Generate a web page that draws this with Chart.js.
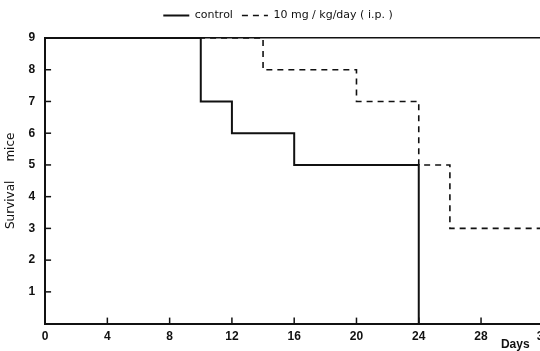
<!DOCTYPE html>
<html>
<head>
<meta charset="utf-8">
<script src="https://cdn.jsdelivr.net/npm/chart.js@4.4.1/dist/chart.umd.min.js"></script>
<style>
  html, body { margin: 0; padding: 0; background: #fff; overflow: hidden; }
</style>
</head>
<body>
<canvas id="survivalChart" width="556" height="351"></canvas>
<script>
// survival of mice, control vs treated (step curves)
const dayTicks = [0, 4, 8, 12, 16, 20, 24, 28, 32];
const miceTicks = [0, 1, 2, 3, 4, 5, 6, 7, 8, 9];

const controlDays = [0, 10, 12, 16, 24];
const controlMice = [9, 7, 6, 5, 0];

const treatedDays = [0, 14, 20, 24, 26, 33];
const treatedMice = [9, 8, 7, 5, 3, 3];

const ink = '#111';
const fontFamily = '"DejaVu Sans", Verdana, sans-serif';
const tickFamily = '"Liberation Sans", Arial, sans-serif';

function toPoints(xs, ys) {
  return xs.map((x, i) => ({ x: x, y: ys[i] }));
}

// short tick marks drawn inside the axes, plus the "Days" caption
const innerTicks = {
  id: 'innerTicks',
  afterDraw(chart) {
    const { ctx, scales: { x, y } } = chart;
    ctx.save();
    ctx.strokeStyle = ink;
    ctx.lineWidth = 1.5;
    miceTicks.filter(v => v > 0 && v < 9).forEach(v => {
      const py = y.getPixelForValue(v);
      ctx.beginPath();
      ctx.moveTo(x.left, py);
      ctx.lineTo(x.left + 6, py);
      ctx.stroke();
    });
    dayTicks.filter(v => v > 0 && v < 32).forEach(v => {
      const px = x.getPixelForValue(v);
      ctx.beginPath();
      ctx.moveTo(px, y.bottom);
      ctx.lineTo(px, y.bottom - 6);
      ctx.stroke();
    });
    ctx.fillStyle = ink;
    ctx.font = 'bold 12px ' + tickFamily;
    ctx.textAlign = 'center';
    ctx.textBaseline = 'middle';
    ctx.fillText('Days', x.getPixelForValue(30.2), y.bottom + 21);
    ctx.restore();
  }
};

new Chart(document.getElementById('survivalChart').getContext('2d'), {
  type: 'line',
  data: {
    datasets: [{
      label: 'control',
      data: toPoints(controlDays, controlMice),
      stepped: 'before',
      borderColor: ink,
      borderWidth: 2,
      pointRadius: 0,
      fill: false
    }, {
      label: '10 mg / kg/day ( i.p. )',
      data: toPoints(treatedDays, treatedMice),
      stepped: 'before',
      borderColor: ink,
      borderWidth: 1.6,
      borderDash: [6, 5],
      pointRadius: 0,
      fill: false
    }]
  },
  options: {
    responsive: false,
    animation: false,
    layout: { padding: { top: 1, left: 0, right: 0, bottom: 1 } },
    scales: {
      x: {
        type: 'linear',
        min: 0,
        max: 32.8,
        afterBuildTicks: axis => { axis.ticks = dayTicks.map(v => ({ value: v })); },
        grid: { display: false, drawTicks: false },
        border: { display: true, color: ink, width: 2 },
        ticks: {
          color: ink,
          padding: 6,
          maxRotation: 0,
          font: { family: tickFamily, size: 12, weight: 'bold' }
        }
      },
      top: {
        type: 'linear',
        position: 'top',
        min: 0,
        max: 32.8,
        grid: { display: false, drawTicks: false },
        border: { display: true, color: ink, width: 1.5 },
        ticks: { display: false },
        afterFit: axis => { axis.height = 7; }
      },
      y: {
        min: 0,
        max: 9,
        afterBuildTicks: axis => { axis.ticks = miceTicks.map(v => ({ value: v })); },
        grid: { display: false, drawTicks: false },
        border: { display: true, color: ink, width: 2 },
        ticks: {
          color: ink,
          padding: 10,
          callback: v => (v === 0 ? '' : v),
          font: { family: tickFamily, size: 12, weight: 'bold' }
        },
        title: {
          display: true,
          text: 'Survival     mice',
          color: ink,
          padding: { top: 4, bottom: 0 },
          font: { family: fontFamily, size: 12 }
        }
      }
    },
    plugins: {
      legend: {
        display: true,
        position: 'top',
        labels: {
          color: ink,
          usePointStyle: true,
          pointStyle: 'line',
          pointStyleWidth: 26,
          padding: 9,
          font: { family: fontFamily, size: 11 },
          generateLabels: chart => Chart.defaults.plugins.legend.labels.generateLabels(chart).map(item => {
            const ds = chart.data.datasets[item.datasetIndex];
            item.lineDash = ds.borderDash || [];
            item.lineWidth = ds.borderWidth;
            return item;
          })
        }
      },
      tooltip: { enabled: false }
    }
  },
  plugins: [innerTicks]
});
</script>
</body>
</html>
